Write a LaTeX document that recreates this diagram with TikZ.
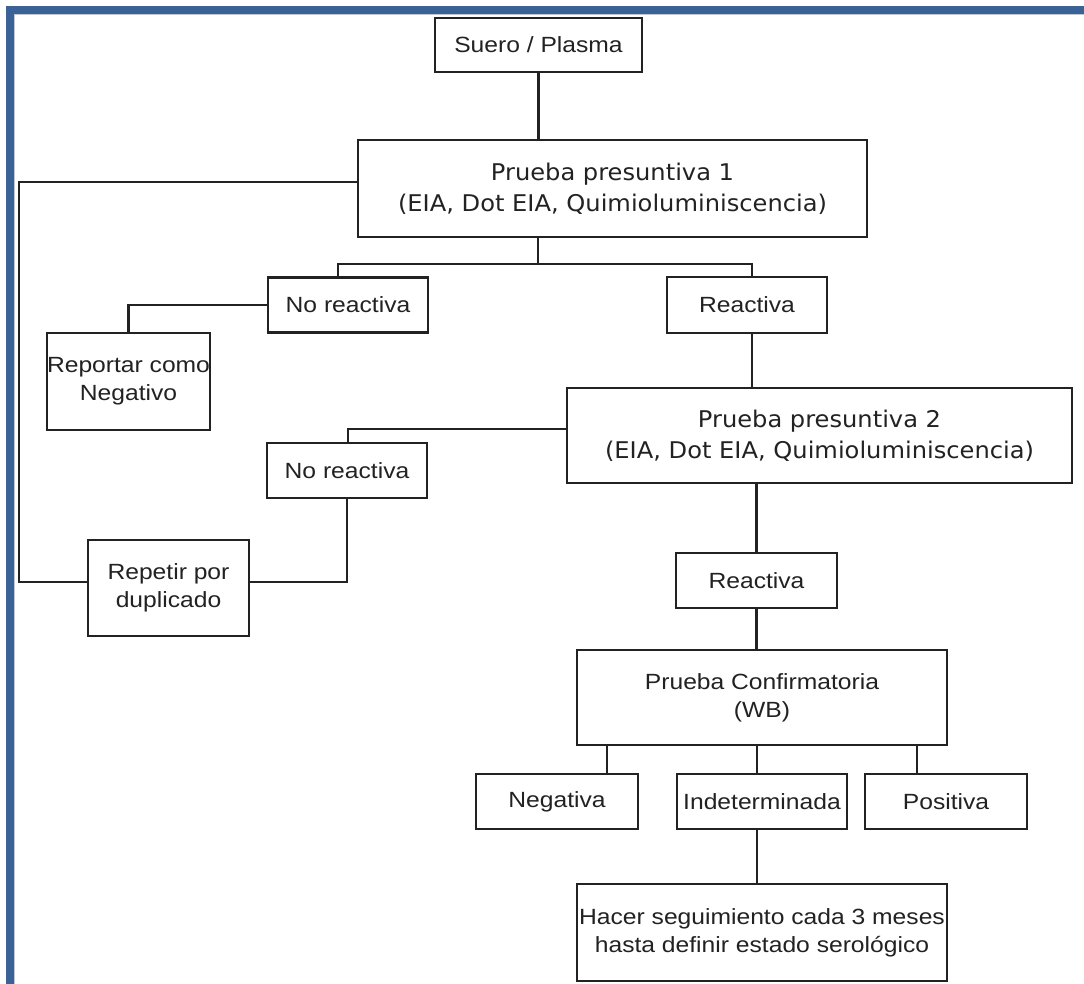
\documentclass[tikz,border=0pt]{standalone}
\usepackage{fontspec}
\setmainfont{Liberation Sans}[FakeStretch=1.12]
\newfontfamily\pfont{DejaVu Sans}[FakeStretch=1.05]
\definecolor{framecol}{RGB}{58,98,150}
\definecolor{ink}{RGB}{34,34,34}
\tikzset{
  box/.style={draw=ink, line width=2.4pt, fill=white, inner sep=0pt, align=center,
    text=ink, font=\fontsize{22}{28}\selectfont},
  pbox/.style={box, font=\pfont\fontsize{23}{31}\selectfont},
  link/.style={draw=ink, line width=2.4pt},
}
\begin{document}
\begin{tikzpicture}[x=1pt,y=-1pt]
\useasboundingbox (0,0) rectangle (1084,983);
\fill[white] (0,0) rectangle (1084,983);
% frame
\draw[framecol, line width=8pt] (10,995) -- (10,10) -- (1095,10);
\draw[framecol!35, line width=1.2pt] (14.6,995) -- (14.6,14.6) -- (1095,14.6);

% nodes
\node[box, minimum width=207, minimum height=54] (suero) at (538.5,45) {Suero / Plasma};
\node[pbox, minimum width=509, minimum height=97] (p1) at (612.5,188.5) {Prueba presuntiva 1\\(EIA, Dot EIA, Quimioluminiscencia)};
\node[box, minimum width=160, minimum height=55] (nr1) at (348,305) {No reactiva};
\node[box, minimum width=160, minimum height=56] (r1) at (747,305) {Reactiva};
\node[box, minimum width=161, minimum height=97] (rep) at (128.5,381.5) {Reportar como\\Negativo};
\node[pbox, minimum width=505, minimum height=95] (p2) at (819.5,435.5) {Prueba presuntiva 2\\(EIA, Dot EIA, Quimioluminiscencia)};
\node[box, minimum width=160, minimum height=55] (nr2) at (347,470.5) {No reactiva};
\node[box, minimum width=161, minimum height=96] (rep2) at (168.5,588) {Repetir por\\duplicado};
\node[box, minimum width=161, minimum height=55] (r2) at (756.5,580.5) {Reactiva};
\node[box, minimum width=370, minimum height=95] (conf) at (762,697.5) {Prueba Confirmatoria\\(WB)};
\node[box, minimum width=162, minimum height=55] (neg) at (557,801.5) {Negativa};
\node[box, minimum width=170, minimum height=55] (ind) at (762,801.5) {Indeterminada};
\node[box, minimum width=162, minimum height=55] (pos) at (946,801.5) {Positiva};
\node[box, minimum width=370, minimum height=97] (hacer) at (762,932.5) {Hacer seguimiento cada 3 meses\\hasta definir estado serol\'ogico};

% junction coordinates
\coordinate (j1) at (538,264);
\coordinate (ja) at (338,264);
\coordinate (jb) at (752,264);
\coordinate (l1) at (19,182);
\coordinate (l2) at (19,582);
\coordinate (m1) at (348,429);
\coordinate (c1) at (607,0);
\coordinate (c2) at (757,0);
\coordinate (c3) at (917,0);

% connectors
\draw[link] (suero.south) -- (suero.south |- p1.north);
\draw[link] (p1.south -| j1) -- (j1);
\draw[link] (ja |- nr1.north) -- (ja) -- (jb) -- (jb |- r1.north);
\draw[link] (nr1.west) -| (rep.north);
\draw[link] (p1.west |- l1) -- (l1) -- (l2) -- (l2 -| rep2.west);
\draw[link] (rep2.east |- l2) -| (nr2.south);
\draw[link] (p2.west |- m1) -- (m1) -- (m1 |- nr2.north);
\draw[link] (r1.south -| jb) -- (jb |- p2.north);
\draw[link] (p2.south -| r2.north) -- (r2.north);
\draw[link] (r2.south) -- (r2.south |- conf.north);
\draw[link] (conf.south -| c1) -- (neg.north -| c1);
\draw[link] (conf.south -| c2) -- (ind.north -| c2);
\draw[link] (conf.south -| c3) -- (pos.north -| c3);
\draw[link] (ind.south -| c2) -- (hacer.north -| c2);
\end{tikzpicture}
\end{document}
